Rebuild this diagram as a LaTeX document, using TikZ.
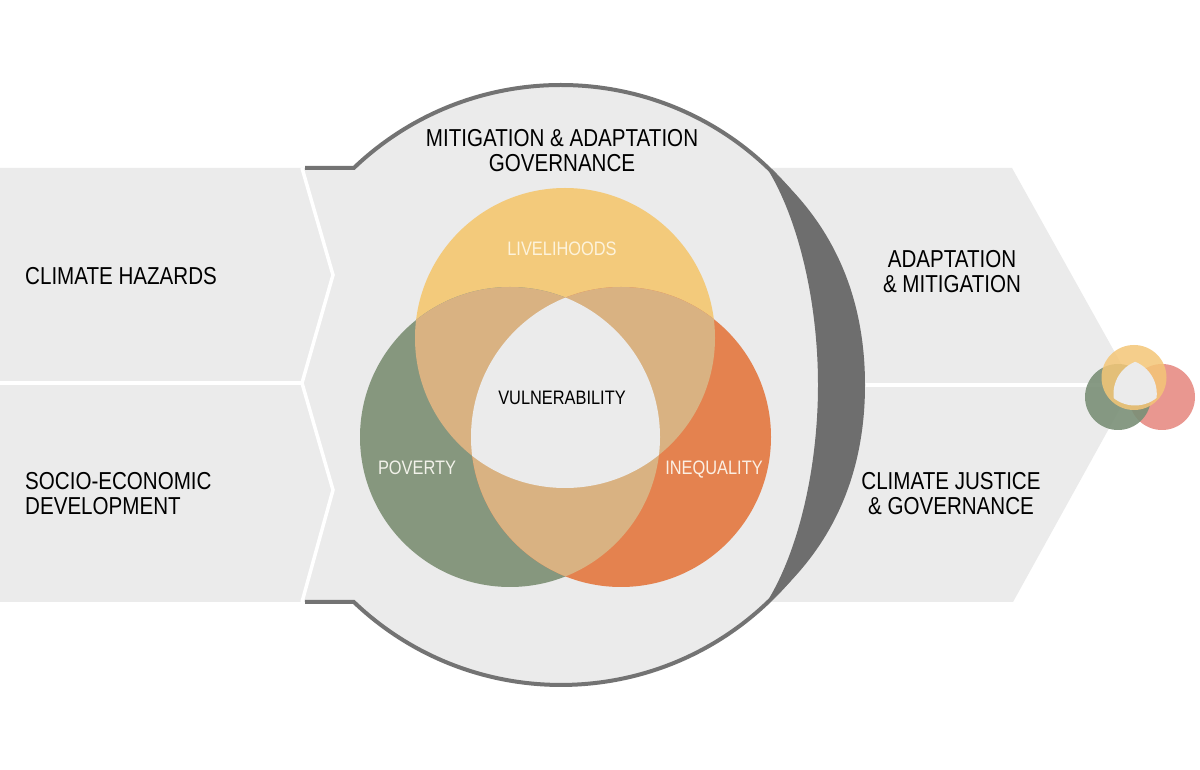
\documentclass[tikz,border=0pt]{standalone}
\usepackage{fontspec}
\setmainfont{Liberation Sans}[FakeStretch=0.84]
\usepackage{tikz}
\usetikzlibrary{positioning,calc}
\definecolor{bandgray}{HTML}{EBEBEB}
\definecolor{rimgray}{HTML}{737373}
\definecolor{shadegray}{HTML}{6E6E6E}
\definecolor{livecol}{HTML}{F3CA7B}
\definecolor{povcol}{HTML}{86977E}
\definecolor{ineqcol}{HTML}{E4824F}
\definecolor{overlapcol}{HTML}{D9B282}
\definecolor{smallpink}{HTML}{E6857D}
\definecolor{smallgreen}{HTML}{7A9077}
\definecolor{smallyellow}{HTML}{F4C677}

\begin{document}
\begin{tikzpicture}[x=1pt, y=1pt,
    bandtext/.style={font=\fontsize{24.5}{25}\selectfont, inner sep=0pt, align=center},
    venntext/.style={font=\fontsize{19.5}{20}\selectfont, inner sep=0pt, anchor=base},
    divider/.style={white, line width=3.5pt},
    rim/.style={rimgray, line width=4pt}
]
\useasboundingbox (0,0) rectangle (1200,769);
\fill[white] (0,0) rectangle (1200,769);

% band and hub
\fill[bandgray] (0,167) -- (0,601) -- (1012,601) -- (1133,384) -- (1013,167) -- cycle;
\coordinate (hub) at (561,384);
\fill[bandgray] (hub) circle[radius=300];

% white separators
\draw[divider] (0,386) -- (302,386);
\draw[divider, line join=miter] (302,601) -- (333,494) -- (302,386) -- (333,279) -- (302,167);
\draw[divider] (820,384) -- (1110,384);

% rim and shade
\draw[rim] (305,601) -- (353.8,601) arc[start angle=133.67, end angle=-133.67, radius=300] -- (305,167);
\fill[shadegray] (765,604) .. controls (835,546) and (865,470) .. (865,384)
    .. controls (865,298) and (835,222) .. (765,164)
    .. controls (798,215) and (818,300) .. (818,384)
    .. controls (818,468) and (798,553) .. (765,604) -- cycle;

% venn
\coordinate (live) at (565,431);
\coordinate (pov) at (510,332);
\coordinate (ineq) at (621,332);
\fill[livecol] (live) circle[radius=150];
\fill[povcol] (pov) circle[radius=150];
\fill[ineqcol] (ineq) circle[radius=150];
\begin{scope}
  \clip (live) circle[radius=150];
  \fill[overlapcol] (pov) circle[radius=150];
  \fill[overlapcol] (ineq) circle[radius=150];
\end{scope}
\begin{scope}
  \clip (pov) circle[radius=150];
  \fill[overlapcol] (ineq) circle[radius=150];
\end{scope}
\begin{scope}
  \clip (live) circle[radius=150];
  \clip (pov) circle[radius=150];
  \fill[bandgray] (ineq) circle[radius=150];
\end{scope}

% small venn
\fill[smallpink, fill opacity=0.85] (1162,372) circle[radius=33];
\fill[smallgreen, fill opacity=0.9] (1118,372) circle[radius=33];
\fill[smallyellow, fill opacity=0.85] (1134,391.5) circle[radius=32.5];
\begin{scope}
  \clip (1135,398) circle[radius=34.5];
  \clip (1122.3,375.2) circle[radius=34.5];
  \fill[bandgray] (1148,375.2) circle[radius=34.5];
\end{scope}

% labels
\node[bandtext, anchor=base west, align=left] (hazards) at (25,484) {CLIMATE HAZARDS};
\node[bandtext, anchor=base west, align=left] (socio) at (25,254) {SOCIO-ECONOMIC\\DEVELOPMENT};
\node[bandtext, anchor=base] (governance) at (562,597) {MITIGATION \& ADAPTATION\\GOVERNANCE};
\node[bandtext, anchor=base] (adapt) at (952,476) {ADAPTATION\\\& MITIGATION};
\node[bandtext, anchor=base] (justice) at (951,254) {CLIMATE JUSTICE\\\& GOVERNANCE};
\node[venntext, text={rgb,255:red,253;green,243;blue,220}] (livelihoods) at (562,513) {LIVELIHOODS};
\node[venntext] (vulnerability) at (562,364) {VULNERABILITY};
\node[venntext, text={rgb,255:red,242;green,242;blue,234}] (poverty) at (417,294) {POVERTY};
\node[venntext, text={rgb,255:red,251;green,239;blue,227}] (inequality) at (714,294) {INEQUALITY};
\end{tikzpicture}
\end{document}
